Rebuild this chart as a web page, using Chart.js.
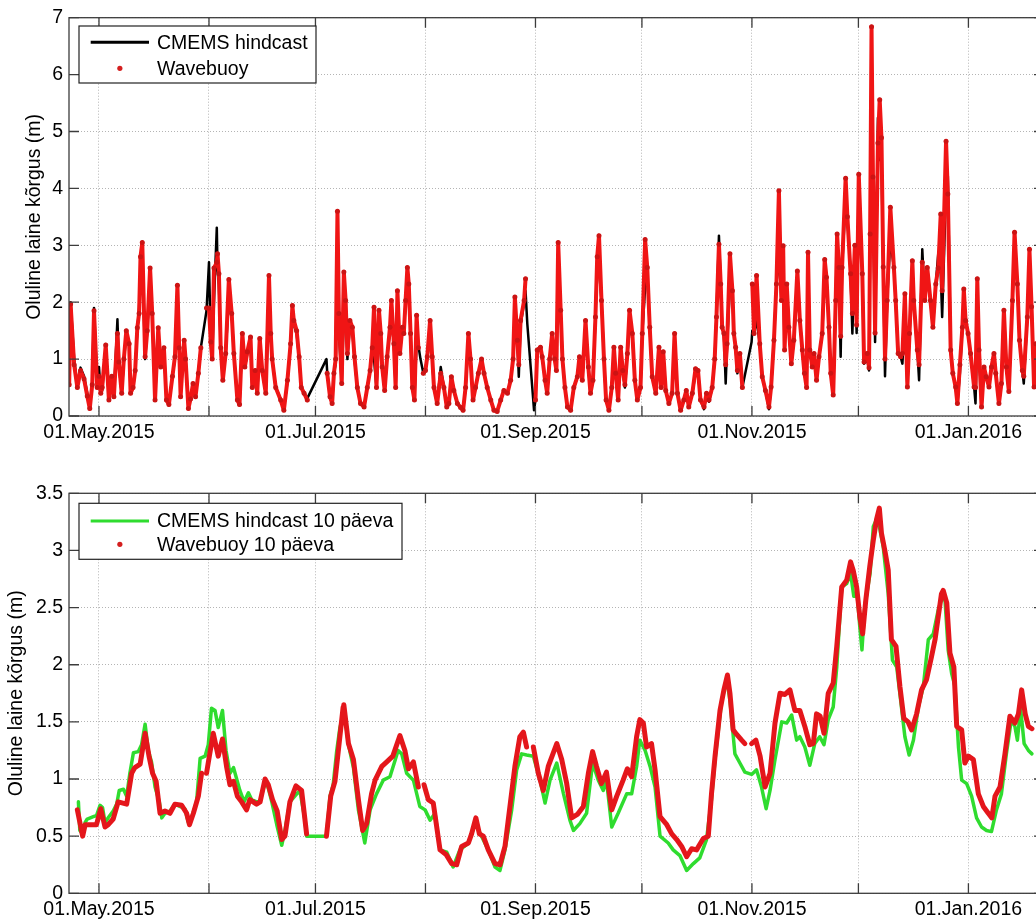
<!DOCTYPE html>
<html>
<head>
<meta charset="utf-8">
<script src="https://cdn.jsdelivr.net/npm/chart.js@4/dist/chart.umd.min.js"></script>
<style>
  html, body { margin: 0; padding: 0; background: #fff; overflow: hidden; width: 1036px; height: 924px; }
  canvas { position: absolute; left: 0; }
  #hsRaw { top: 0; }
  #hsSmooth { top: 460px; }
</style>
</head>
<body>
<canvas id="hsRaw" width="1060" height="460"></canvas>
<canvas id="hsSmooth" width="1060" height="464"></canvas>
<script>
// Time axis: days counted from 01.May.2015
const monthTickDays   = [0, 31, 61, 92, 123, 153, 184, 214, 245];
const monthTickLabels = ['01.May.2015', '', '01.Jul.2015', '', '01.Sep.2015', '', '01.Nov.2015', '', '01.Jan.2016'];

// Significant wave height (m): CMEMS hindcast and wave buoy (null = no record)
const rawDays = [
  -8.4, -8.0, -7.0, -6.1, -5.2, -4.2, -3.3, -2.6, -1.9, -1.4, -0.5, 0.0, 0.5, 0.9, 1.9, 2.8, 3.6, 4.2, 5.2, 5.6,
  6.4, 7.0, 7.7, 8.5, 8.9, 9.6, 10.2, 10.8, 11.3, 11.7, 12.2, 13.0, 13.6, 14.4, 15.0, 15.8, 16.7, 17.4, 18.3, 19.0,
  19.7, 20.7, 21.4, 22.1, 22.6, 23.0, 24.0, 24.4, 25.2, 25.8, 26.5, 27.2, 28.0, 28.7, 29.5, 30.3, 31.0, 31.5, 31.9, 32.4,
  33.2, 33.4, 33.8, 34.3, 34.9, 35.7, 36.6, 37.4, 38.0, 39.0, 39.6, 40.4, 41.1, 41.8, 42.7, 43.2, 44.0, 44.6, 45.3, 46.0,
  47.0, 47.9, 48.4, 48.8, 49.8, 51.2, 52.1, 53.1, 54.0, 54.5, 54.9, 55.7, 56.4, 57.0, 57.8, 58.7, 61.0, 64.1, 64.3, 65.1,
  65.7, 66.2, 66.7, 67.2, 67.6, 68.4, 69.0, 69.5, 70.0, 70.7, 71.4, 72.0, 72.8, 73.7, 74.7, 75.6, 76.4, 77.0, 77.5, 78.2,
  78.9, 79.4, 79.8, 80.5, 81.2, 82.0, 82.4, 83.1, 83.6, 84.1, 84.8, 85.5, 85.9, 86.4, 86.9, 87.3, 87.8, 88.3, 88.9, 89.5,
  90.0, 90.6, 91.4, 92.0, 92.5, 93.3, 93.9, 94.4, 95.3, 96.3, 97.2, 98.0, 98.6, 99.3, 100.0, 101.0, 101.9, 102.6, 103.3, 104.1,
  104.7, 105.4, 106.1, 106.9, 107.8, 108.5, 109.4, 110.4, 111.3, 112.2, 113.2, 114.1, 115.1, 116.0, 116.7, 117.2, 117.9, 118.3, 118.8, 119.8,
  120.2, 120.7, 122.6, 123.0, 123.5, 124.4, 124.9, 125.7, 126.3, 127.0, 127.7, 128.4, 128.9, 129.4, 130.1, 130.6, 131.3, 132.0, 132.9, 133.8,
  134.8, 135.4, 136.2, 137.1, 137.9, 138.5, 139.2, 139.9, 140.4, 140.9, 141.6, 142.3, 142.9, 143.7, 144.5, 145.1, 145.6, 146.3, 147.0, 147.6,
  148.2, 148.9, 149.5, 150.3, 151.0, 151.7, 152.6, 153.1, 153.9, 154.5, 155.2, 155.9, 156.9, 157.8, 158.4, 159.0, 159.7, 160.6, 161.5, 162.2,
  163.0, 163.9, 164.8, 165.5, 166.2, 167.2, 168.1, 168.8, 169.5, 170.5, 171.2, 171.9, 172.8, 173.5, 174.0, 174.7, 175.2, 175.6, 176.1, 176.6,
  177.0, 177.8, 178.5, 178.9, 179.4, 179.9, 180.6, 181.3, 182.6, 183.9, 184.1, 184.6, 185.3, 186.2, 186.9, 187.8, 188.8, 189.4, 190.2, 190.9,
  191.6, 192.3, 192.8, 193.2, 193.8, 194.4, 195.1, 195.8, 196.8, 197.5, 198.2, 198.8, 199.4, 199.8, 200.3, 201.0, 201.5, 202.2, 202.9, 203.8,
  204.5, 205.0, 205.7, 206.2, 206.9, 207.6, 208.0, 208.5, 209.0, 209.4, 210.4, 210.9, 211.8, 212.3, 213.0, 213.5, 214.1, 215.1, 215.6, 216.5,
  217.0, 217.3, 217.7, 218.1, 218.7, 219.5, 220.0, 220.5, 221.0, 221.5, 222.1, 223.0, 224.0, 224.5, 225.2, 225.9, 226.4, 227.1, 227.8, 228.4,
  229.2, 229.6, 230.6, 231.1, 232.0, 232.7, 233.4, 234.3, 235.0, 235.8, 236.5, 237.2, 237.6, 238.7, 239.2, 240.0, 240.6, 241.4, 241.9, 242.6,
  243.3, 243.7, 244.2, 244.9, 245.6, 246.6, 247.0, 247.5, 248.0, 248.7, 249.4, 250.0, 250.8, 251.5, 252.2, 252.7, 253.6, 254.3, 255.0, 255.7,
  256.4, 257.4, 258.0, 258.8, 259.4, 260.2, 260.6, 261.6, 262.2, 262.8, 263.5, 264.0
];
const hindcastHs = [
  0.6, 2.0, 1.0, 0.55, 0.85, 0.7, 0.4, 0.15, 0.6, 1.9, 0.55, 0.86, 0.4, 0.45, 1.2, 0.3, 0.7, 0.35, 1.7, 0.9,
  0.4, 0.95, 1.45, 1.25, 0.4, 0.5, 0.8, 1.5, 1.9, 2.6, 2.8, 1.0, 1.5, 2.55, 1.8, 0.3, 1.5, 0.86, 1.2, 0.3,
  0.2, 0.7, 1.0, 2.1, 1.2, 0.35, 1.3, 1.0, 0.15, 0.3, 0.55, 0.35, 0.75, 1.2, null, 1.85, 2.7, 1.3, 1.0, 2.0,
  3.31, 2.6, 2.3, 1.2, 0.65, 1.1, 2.1, 1.8, 1.1, 0.3, 0.2, 1.4, 0.85, 1.1, 1.35, 0.5, 0.8, 0.4, 1.3, 0.8,
  0.4, 2.03, 1.45, 1.0, 0.5, 0.3, 0.12, 0.6, 1.25, 1.75, 1.6, 1.45, 1.0, 0.5, 0.4, 0.31, null, 1.0, 0.78, 0.35,
  0.22, 0.75, 0.92, 3.6, 1.5, 0.57, 1.8, 2.0, 1.0, 1.6, 1.5, 1.0, 0.5, 0.22, 0.16, 0.5, 0.8, 1.2, 1.0, 0.5,
  1.4, 1.4, 0.86, 0.45, 1.04, 1.5, 1.7, 1.27, 0.5, 1.6, 1.1, 1.56, 1.45, 2.03, 2.3, 2.2, 1.45, 0.5, 0.28, 1.3,
  1.24, 1.0, 0.75, 0.86, 1.0, 1.4, 1.0, 0.5, 0.22, 0.86, 0.5, 0.16, 0.22, 0.69, 0.45, 0.22, 0.16, 0.1, 0.5, 1.3,
  1.0, 0.28, 0.5, 0.75, 0.95, 0.75, 0.5, 0.28, 0.1, 0.08, 0.28, 0.45, 0.4, 0.63, 1.0, 1.8, 1.33, 0.69, 1.6, 2.0,
  2.2, 1.62, 0.1, 0.28, 1.16, 1.21, 1.04, 0.63, 0.4, 1.0, 1.4, 1.0, 0.8, 2.73, 1.86, 1.0, 0.5, 0.16, 0.1, 0.5,
  0.69, 1.04, 0.63, 1.5, 0.86, 0.4, 0.63, 1.74, 2.79, 2.6, 2.03, 1.0, 0.28, 0.1, 0.5, 1.15, 0.75, 0.28, 1.2, 0.8,
  0.5, 1.1, 1.5, 1.45, 0.63, 0.28, 0.5, 1.45, 2.26, 2.5, 1.56, 0.69, 0.4, 1.0, 0.5, 1.05, 0.45, 0.22, 0.4, 1.2,
  0.4, 0.1, 0.28, 0.45, 0.16, 0.4, 0.75, 0.8, 0.28, 0.12, 0.4, 0.25, 0.5, 1.0, 1.74, 3.17, 2.32, 1.56, 1.45, 0.57,
  1.27, 2.3, 2.2, 1.45, 1.21, 0.75, 1.1, 0.5, null, 1.3, 1.5, 1.45, 1.7, 1.27, 0.69, 0.45, 0.12, 0.51, 1.33, 2.32,
  2.82, 2.03, 2.5, 1.16, 2.32, 1.56, 0.92, 1.33, 2.2, 1.68, 1.16, 0.75, 0.5, 2.4, 1.16, 0.86, 1.1, 0.63, 1.04, 1.45,
  2.4, 2.44, 1.56, 0.75, 0.37, 2.03, 3.2, 2.5, 1.04, 2.61, 3.8, 3.5, 2.5, 1.45, 2.8, 1.46, 3.8, 2.5, 0.92, 1.0,
  0.8, 3.0, 6.29, 4.0, 1.3, 5.24, 4.5, 4.5, 2.62, 0.7, 2.03, 3.1, 2.61, 2.03, 1.1, 1.04, 0.92, 1.8, 0.51, 1.45,
  2.4, 2.03, 1.16, 0.63, 2.93, 2.03, 2.61, 2.03, 1.56, 2.32, 2.85, 2.5, 1.74, 4.0, 4.22, 1.16, 0.75, 0.51, 0.22, 0.75,
  1.56, 1.8, 1.68, 1.45, 1.1, 0.51, 0.22, 1.5, 1.16, 0.16, 0.86, 0.69, 0.51, 0.86, 1.1, 0.75, 0.22, 0.57, 1.86, 0.86,
  0.43, 2.03, 2.8, 2.32, 1.33, 0.8, 0.57, 1.74, 2.5, 1.92, 0.51, 1.27
];
const buoyHs = [
  0.55, 1.97, 0.9, 0.5, 0.8, 0.65, 0.35, 0.13, 0.55, 1.85, 0.5, 0.7, 0.4, 0.5, 1.25, 0.28, 0.7, 0.34, 1.45, 0.95,
  0.4, 1.0, 1.5, 1.27, 0.4, 0.5, 0.8, 1.55, 1.8, 2.8, 3.05, 1.04, 1.5, 2.6, 1.8, 0.28, 1.55, 0.86, 1.2, 0.28,
  0.2, 0.7, 1.04, 2.3, 1.2, 0.34, 1.33, 1.0, 0.13, 0.3, 0.57, 0.34, 0.75, 1.2, null, 1.9, 1.9, 1.3, 1.0, 2.6,
  2.7, 2.85, 2.5, 1.2, 0.63, 1.1, 2.4, 1.8, 1.1, 0.28, 0.2, 1.45, 0.86, 1.13, 1.39, 0.5, 0.8, 0.4, 1.36, 0.8,
  0.4, 2.47, 1.45, 1.0, 0.5, 0.28, 0.1, 0.63, 1.27, 1.94, 1.68, 1.5, 1.04, 0.5, 0.4, 0.28, null, null, 0.75, 0.34,
  0.22, 0.75, 1.0, 3.6, 1.8, 0.57, 2.53, 2.03, 1.1, 1.68, 1.56, 1.04, 0.5, 0.22, 0.16, 0.5, 0.8, 1.2, 1.91, 0.5,
  1.86, 1.45, 0.86, 0.45, 1.04, 1.56, 2.03, 1.27, 0.5, 2.2, 1.1, 1.56, 1.45, 2.03, 2.61, 2.32, 1.45, 0.5, 0.28, 1.77,
  1.2, null, 0.75, 0.8, 1.04, 1.68, 1.04, 0.5, 0.22, 0.75, 0.5, 0.16, 0.22, 0.69, 0.45, 0.22, 0.15, 0.1, 0.5, 1.45,
  1.0, 0.28, 0.5, 0.75, 1.0, 0.75, 0.5, 0.28, 0.1, 0.08, 0.28, 0.45, 0.4, 0.63, 1.0, 2.09, 1.33, 0.9, 1.68, 2.03,
  2.41, null, null, 0.28, 1.16, 1.21, 1.04, 0.63, 0.4, 1.0, 1.45, 1.0, 0.8, 3.05, 1.86, 1.0, 0.5, 0.16, 0.1, 0.5,
  0.69, 1.04, 0.63, 1.68, 0.86, 0.4, 0.63, 1.74, 2.8, 3.17, 2.03, 1.0, 0.28, 0.1, 0.5, 1.21, 0.75, 0.28, 1.21, 0.8,
  0.55, 1.1, 1.86, 1.45, 0.63, 0.28, 0.5, 1.45, 3.1, 2.61, 1.56, 0.69, 0.4, 1.21, 0.5, 1.13, 0.45, 0.22, 0.4, 1.45,
  0.4, 0.1, 0.28, 0.45, 0.16, 0.4, 0.83, 0.8, 0.28, 0.16, 0.4, 0.28, 0.5, 1.0, 1.74, 3.02, 2.32, 1.56, 1.45, 0.9,
  1.27, 2.85, 2.2, 1.45, 1.21, 0.8, 1.1, 0.5, null, null, 2.32, 1.45, 2.47, 1.27, 0.69, 0.45, 0.16, 0.51, 1.33, 2.32,
  3.96, 2.03, 2.99, 1.16, 2.32, 1.56, 0.92, 1.33, 2.55, 1.68, 1.16, 0.75, 0.5, 2.88, 1.16, 0.86, 1.1, 0.63, 1.04, 1.45,
  2.75, 2.44, 1.56, 0.75, 0.37, 2.03, 3.2, 2.61, 1.4, 2.61, 4.18, 3.5, 2.5, 1.8, 3.0, 1.6, 4.25, 2.5, 0.95, 1.1,
  0.85, 3.2, 6.84, 4.2, 1.46, 4.8, 5.56, 4.89, 2.62, 1.0, 2.03, 3.67, 2.61, 2.03, 1.1, 1.04, 1.1, 2.15, 0.51, 1.45,
  2.73, 2.03, 1.16, 0.9, 2.7, 2.03, 2.61, 2.03, 1.56, 2.32, 2.6, 3.55, 2.2, 4.83, 3.9, 1.16, 0.75, 0.51, 0.22, 0.9,
  1.56, 2.23, 1.68, 1.45, 1.1, 0.51, 0.5, 2.41, 1.16, 0.16, 0.86, 0.69, 0.51, 0.86, 1.1, 0.75, 0.22, 0.57, 1.86, 0.86,
  0.43, 2.03, 3.23, 2.32, 1.33, 0.8, 0.7, 1.74, 2.93, 1.92, 0.51, 1.27
];

// 10-day means of significant wave height (m)
const hindcast10Days = [
  -5.8, -5.4, -4.6, -3.9, -3.3, -1.6, -0.7, 0.3, 1.0, 1.7, 2.6, 4.0, 5.0, 5.7, 6.9, 7.8, 8.7, 9.7, 11.1, 12.0,
  13.0, 13.9, 14.8, 15.8, 17.0, 17.7, 18.6, 20.0, 21.4, 22.8, 24.2, 25.2, 26.1, 27.5, 28.5, 29.9, 30.8, 31.7, 32.7, 33.6,
  34.8, 35.8, 36.9, 37.9, 38.8, 39.7, 40.9, 42.1, 43.0, 44.4, 45.4, 46.3, 47.2, 48.7, 50.1, 51.5, 52.4, 53.8, 55.2, 56.6,
  58.0, 58.5, 64.1, 65.1, 66.0, 67.0, 67.9, 69.1, 70.3, 71.7, 73.1, 74.9, 76.4, 78.2, 80.1, 82.0, 84.3, 85.3, 86.7, 88.6,
  90.4, 91.9, 93.3, 94.7, 96.1, 98.0, 99.8, 101.7, 104.1, 106.0, 107.8, 109.7, 111.6, 113.0, 114.4, 116.3, 117.7, 119.1, 120.5, 122.4,
  124.3, 125.7, 127.1, 129.0, 130.9, 132.7, 133.7, 135.5, 137.4, 139.1, 140.7, 142.1, 143.0, 144.5, 146.3, 148.7, 150.1, 151.5, 152.4, 153.9,
  155.3, 156.7, 158.1, 160.4, 161.8, 163.7, 165.6, 167.5, 169.3, 171.2, 172.6, 173.6, 175.5, 176.9, 177.8, 179.2, 180.6, 182.0, 183.9, 185.3,
  186.7, 188.0, 189.1, 190.5, 192.4, 193.8, 195.2, 196.6, 197.5, 198.9, 200.3, 201.7, 203.1, 204.3, 205.5, 206.9, 207.9, 209.3, 210.7, 211.8,
  212.7, 213.7, 214.4, 215.0, 215.8, 217.3, 218.2, 219.1, 219.9, 221.0, 222.4, 223.6, 224.8, 225.9, 227.1, 228.3, 229.5, 230.9, 232.3, 233.7,
  235.1, 236.5, 237.4, 238.4, 239.3, 240.3, 241.2, 242.2, 243.1, 244.5, 245.9, 247.3, 248.7, 250.1, 251.5, 252.9, 254.3, 255.7, 257.1, 258.1,
  258.8, 259.7, 260.7, 261.9, 262.9
];
const hindcast10Hs = [
  0.8, 0.55, 0.52, 0.62, 0.65, 0.67, 0.68, 0.77, 0.75, 0.62, 0.66, 0.72, 0.78, 0.9, 0.91, 0.85, 1.05, 1.23, 1.24, 1.3,
  1.48, 1.25, 1.15, 0.93, 0.8, 0.66, 0.7, 0.72, 0.78, 0.76, 0.74, 0.62, 0.66, 0.8, 1.18, 1.2, 1.3, 1.62, 1.6, 1.45,
  1.6, 1.25, 1.05, 1.1, 1.0, 0.9, 0.8, 0.88, 0.82, 0.8, 0.8, 0.92, 0.98, 0.8, 0.6, 0.42, 0.55, 0.8, 0.85, 0.9,
  0.65, 0.5, 0.5, 0.85, 0.95, 1.25, 1.45, 1.6, 1.3, 1.1, 0.73, 0.44, 0.73, 0.87, 0.99, 1.02, 1.25, 1.22, 1.05, 0.99,
  0.76, 0.73, 0.64, 0.7, 0.38, 0.36, 0.23, 0.38, 0.44, 0.61, 0.5, 0.38, 0.23, 0.2, 0.38, 0.73, 1.08, 1.22, 1.21, 1.2,
  0.99, 0.79, 0.99, 1.14, 0.87, 0.64, 0.55, 0.61, 0.7, 1.14, 0.99, 0.9, 0.99, 0.58, 0.7, 0.87, 0.87, 1.11, 1.34, 1.25,
  1.11, 0.93, 0.5, 0.44, 0.38, 0.33, 0.2, 0.26, 0.31, 0.47, 0.82, 1.17, 1.69, 1.87, 1.69, 1.22, 1.14, 1.06, 1.04, 1.08,
  0.93, 0.74, 0.9, 1.17, 1.5, 1.49, 1.56, 1.34, 1.37, 1.28, 1.12, 1.31, 1.37, 1.3, 1.52, 1.63, 1.98, 2.68, 2.71, 2.8,
  2.6, 2.6, 2.33, 2.13, 2.51, 2.8, 3.21, 3.27, 3.21, 3.03, 2.62, 2.04, 1.98, 1.69, 1.37, 1.21, 1.34, 1.63, 1.81, 2.22,
  2.27, 2.48, 2.57, 2.57, 2.13, 1.92, 1.81, 1.28, 0.99, 0.96, 0.85, 0.66, 0.58, 0.55, 0.54, 0.73, 0.87, 1.22, 1.52, 1.46,
  1.34, 1.62, 1.31, 1.25, 1.22
];
const buoy10Days = [
  -6.1, -4.6, -3.9, -0.7, 0.5, 1.7, 2.6, 4.0, 5.4, 7.8, 9.2, 10.1, 11.6, 13.0, 14.1, 15.1, 16.1, 17.2, 18.6, 20.0,
  21.4, 23.3, 24.7, 25.5, 26.6, 28.0, 28.9, 29.6, 30.3, 31.1, 32.2, 33.6, 34.8, 36.0, 36.9, 37.9, 39.0, 40.2, 41.6, 42.5,
  44.4, 45.4, 46.8, 47.7, 48.9, 50.2, 51.5, 52.4, 53.8, 55.5, 57.1, 58.5, 61.0, 64.1, 65.3, 66.5, 68.8, 69.0, 70.3, 71.7,
  73.1, 74.3, 75.4, 76.8, 77.8, 79.7, 81.1, 82.8, 84.8, 86.2, 87.2, 88.6, 90.0, 90.8, 91.6, 92.8, 94.2, 96.1, 97.8, 99.4,
  100.8, 102.2, 104.1, 105.0, 106.2, 107.2, 108.3, 109.7, 111.6, 113.0, 114.4, 115.8, 117.2, 118.6, 119.6, 120.5, 121.5, 122.4, 123.8, 125.2,
  126.6, 129.0, 130.4, 131.8, 133.2, 134.8, 136.5, 137.9, 139.1, 140.2, 141.6, 143.0, 144.5, 145.9, 147.7, 148.9, 150.1, 151.5, 152.4, 153.4,
  154.3, 155.7, 156.7, 158.1, 160.0, 161.4, 162.8, 164.2, 165.6, 167.0, 168.4, 170.3, 171.7, 172.6, 173.6, 175.0, 176.1, 177.1, 177.8, 178.7,
  179.7, 181.1, 182.0, 183.0, 183.9, 185.1, 186.3, 187.7, 189.1, 190.5, 191.9, 193.3, 194.7, 196.1, 197.5, 198.9, 200.3, 201.3, 202.2, 203.2,
  204.3, 205.5, 206.9, 207.9, 209.3, 210.7, 211.8, 212.5, 213.5, 214.4, 215.2, 216.1, 217.2, 218.2, 219.1, 219.9, 220.5, 221.5, 222.4, 223.3,
  224.6, 225.7, 226.8, 228.0, 229.0, 230.4, 231.8, 233.2, 234.6, 235.6, 236.5, 237.4, 237.9, 238.9, 239.8, 240.9, 241.7, 243.1, 244.0, 245.0,
  246.4, 247.8, 249.2, 250.6, 251.6, 252.5, 253.9, 255.3, 256.7, 258.1, 259.1, 260.0, 261.0, 261.9, 262.9
];
const buoy10Hs = [
  0.73, 0.5, 0.6, 0.6, 0.74, 0.58, 0.6, 0.65, 0.8, 0.78, 1.05, 1.1, 1.13, 1.4, 1.2, 1.05, 0.98, 0.7, 0.72, 0.7,
  0.78, 0.77, 0.7, 0.6, 0.7, 0.85, 1.05, null, 1.05, 1.2, 1.4, 1.2, 1.35, 1.1, 0.95, 0.98, 0.85, 0.8, 0.73, 0.82,
  0.78, 0.8, 1.0, 0.95, 0.82, 0.72, 0.47, 0.5, 0.8, 0.94, 0.9, 0.52, null, 0.5, 0.85, 0.98, 1.63, 1.65, 1.31, 1.17,
  0.82, 0.55, 0.61, 0.87, 0.99, 1.11, 1.15, 1.2, 1.38, 1.25, 1.09, 1.15, 0.93, null, 0.95, 0.82, 0.79, 0.38, 0.34, 0.26,
  0.25, 0.41, 0.44, 0.52, 0.66, 0.52, 0.5, 0.38, 0.26, 0.25, 0.41, 0.76, 1.11, 1.37, 1.41, 1.28, null, 1.28, 1.05, 0.9,
  1.11, 1.31, 1.17, 0.96, 0.66, 0.69, 0.76, 1.05, 1.24, 1.11, 0.96, 1.06, 0.73, 0.85, 0.99, 1.09, 1.02, 1.37, 1.52, 1.49,
  1.28, 1.31, 1.08, 0.67, 0.6, 0.52, 0.47, 0.41, 0.32, 0.39, 0.38, 0.48, 0.5, 0.87, 1.2, 1.6, 1.78, 1.91, 1.75, 1.43,
  1.39, 1.34, 1.31, null, 1.31, 1.34, 1.2, 0.93, 1.05, 1.49, 1.75, 1.74, 1.78, 1.6, 1.6, 1.46, 1.3, 1.31, 1.57, 1.55,
  1.4, 1.75, 1.84, 2.16, 2.68, 2.74, 2.9, 2.83, 2.68, 2.42, 2.27, 2.57, 2.86, 3.09, 3.27, 3.37, 3.15, 2.99, 2.83, 2.22,
  2.16, 1.81, 1.53, 1.5, 1.43, 1.57, 1.78, 1.87, 2.07, 2.22, 2.42, 2.62, 2.65, 2.54, 2.1, 1.98, 1.46, 1.43, 1.14, 1.2,
  1.17, 0.87, 0.76, 0.7, 0.66, 0.85, 0.93, 1.22, 1.55, 1.49, 1.57, 1.78, 1.57, 1.46, 1.44
];

const X_MIN = -8.45;
const X_MAX = 266.3;
const FONT = { family: '"Liberation Sans", Arial, Helvetica, sans-serif', size: 19.5 };
const Y_TITLE = 'Oluline laine kõrgus (m)';

function toPoints(days, values) {
  return days.map((d, i) => ({ x: d, y: values[i] }));
}

// Box frame with inward tick marks on all four sides
const axesFrame = {
  id: 'axesFrame',
  afterDraw(chart) {
    const { ctx, chartArea: { left, top, right, bottom }, scales: { x, y } } = chart;
    const L = 10;
    ctx.save();
    ctx.strokeStyle = '#3c3c3c';
    ctx.lineWidth = 1.3;
    ctx.strokeRect(left, top, right - left, bottom - top);
    ctx.beginPath();
    x.ticks.forEach(t => {
      const px = x.getPixelForValue(t.value);
      ctx.moveTo(px, bottom); ctx.lineTo(px, bottom - L);
      ctx.moveTo(px, top); ctx.lineTo(px, top + L);
    });
    y.ticks.forEach(t => {
      const py = y.getPixelForValue(t.value);
      ctx.moveTo(left, py); ctx.lineTo(left + L, py);
      ctx.moveTo(right, py); ctx.lineTo(right - L, py);
    });
    ctx.stroke();
    ctx.restore();
  }
};

// Boxed legend inside the plot area, built from the dataset labels and styles
const insetLegend = {
  id: 'insetLegend',
  afterDraw(chart, args, opts) {
    const { ctx } = chart;
    ctx.save();
    ctx.fillStyle = '#fff';
    ctx.fillRect(opts.left, opts.top, opts.width, opts.height);
    ctx.strokeStyle = '#222';
    ctx.lineWidth = 1.2;
    ctx.strokeRect(opts.left, opts.top, opts.width, opts.height);
    ctx.font = `${FONT.size}px ${FONT.family}`;
    ctx.textBaseline = 'middle';
    chart.data.datasets.forEach((ds, i) => {
      const yy = opts.top + opts.rowY[i];
      if (ds.legendKind === 'line') {
        ctx.strokeStyle = ds.borderColor;
        ctx.lineWidth = 3;
        ctx.beginPath();
        ctx.moveTo(opts.left + opts.sampleX[0], yy);
        ctx.lineTo(opts.left + opts.sampleX[1], yy);
        ctx.stroke();
      } else {
        ctx.fillStyle = ds.dotColor;
        ctx.beginPath();
        ctx.arc(opts.left + (opts.sampleX[0] + opts.sampleX[1]) / 2, yy, 2.6, 0, Math.PI * 2);
        ctx.fill();
      }
      ctx.fillStyle = '#000';
      ctx.fillText(ds.label, opts.left + opts.textX, yy + 1);
    });
    ctx.restore();
  }
};

function axes(yMax, yStep, titlePad, xAxisHeight) {
  return {
    x: {
      type: 'linear', min: X_MIN, max: X_MAX,
      afterBuildTicks: s => { s.ticks = monthTickDays.map(v => ({ value: v })); },
      afterFit: s => { s.height = xAxisHeight; },
      ticks: {
        autoSkip: false, maxRotation: 0, padding: 5, color: '#000', font: FONT,
        callback: (v, i) => monthTickLabels[i]
      },
      grid: { color: '#b4b4b4', lineWidth: 1, drawTicks: false },
      border: { display: false, dash: [1, 2] }
    },
    y: {
      min: 0, max: yMax,
      afterFit: s => { s.width = 69; },
      ticks: {
        stepSize: yStep, padding: 6, color: '#000', font: FONT,
        callback: v => String(Math.round(v * 10) / 10)
      },
      grid: { color: '#b4b4b4', lineWidth: 1, drawTicks: false },
      border: { display: false, dash: [1, 2] },
      title: { display: true, text: Y_TITLE, color: '#000', font: FONT, padding: { top: titlePad, bottom: 0 } }
    }
  };
}

const common = {
  responsive: false,
  animation: false,
  devicePixelRatio: 1,
  events: []
};

new Chart(document.getElementById('hsRaw'), {
  type: 'line',
  data: {
    datasets: [
      {
        label: 'CMEMS hindcast', legendKind: 'line',
        data: toPoints(rawDays, hindcastHs),
        borderColor: '#000000', borderWidth: 2.5, pointRadius: 0,
        borderJoinStyle: 'round', borderCapStyle: 'round',
        spanGaps: true, order: 2
      },
      {
        label: 'Wavebuoy', legendKind: 'dot', dotColor: '#d41f1f',
        data: toPoints(rawDays, buoyHs),
        borderColor: '#f01515', borderWidth: 4,
        borderJoinStyle: 'round', borderCapStyle: 'round',
        pointRadius: 2.5, pointBackgroundColor: '#cc1414', pointBorderWidth: 0,
        spanGaps: false, order: 1
      }
    ]
  },
  options: Object.assign({}, common, {
    layout: { padding: { top: 16, right: 16, bottom: 0, left: 0 } },
    scales: axes(7, 1, 22.5, 44),
    plugins: {
      legend: { display: false }, tooltip: { enabled: false },
      insetLegend: { left: 79, top: 26, width: 237, height: 57, rowY: [16.3, 42.3], sampleX: [11.7, 70], textX: 78 }
    }
  }),
  plugins: [axesFrame, insetLegend]
});

new Chart(document.getElementById('hsSmooth'), {
  type: 'line',
  data: {
    datasets: [
      {
        label: 'CMEMS hindcast 10 päeva', legendKind: 'line',
        data: toPoints(hindcast10Days, hindcast10Hs),
        borderColor: '#2fdc2f', borderWidth: 3.5, pointRadius: 0,
        borderJoinStyle: 'round', borderCapStyle: 'round',
        spanGaps: true, order: 2
      },
      {
        label: 'Wavebuoy 10 päeva', legendKind: 'dot', dotColor: '#d41f1f',
        data: toPoints(buoy10Days, buoy10Hs),
        borderColor: '#e4161b', borderWidth: 5, pointRadius: 0,
        borderJoinStyle: 'round', borderCapStyle: 'round',
        spanGaps: false, order: 1
      }
    ]
  },
  options: Object.assign({}, common, {
    layout: { padding: { top: 33.3, right: 16, bottom: 0, left: 0 } },
    scales: axes(3.5, 0.5, 4.5, 30.7),
    plugins: {
      legend: { display: false }, tooltip: { enabled: false },
      insetLegend: { left: 79, top: 43.3, width: 323, height: 56, rowY: [17.7, 41], sampleX: [11.7, 70], textX: 78 }
    }
  }),
  plugins: [axesFrame, insetLegend]
});
</script>
</body>
</html>
